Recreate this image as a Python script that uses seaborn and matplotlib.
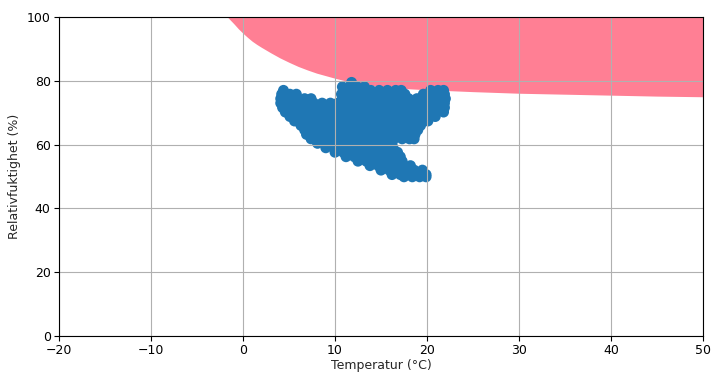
import matplotlib
matplotlib.use("Agg")
import matplotlib.pyplot as plt
import seaborn as sns
import numpy as np
import pandas as pd

# Critical humidity boundary (mould risk zone, filled up to 100 %)
grans_temp = [-1.7, -1.4, -1.0, -0.5, 0.0, 0.5, 1.0, 1.5, 2.0, 3.0, 4.0, 5.0, 6.0, 7.0, 8.0,
              9.0, 10.0, 11.0, 12.0, 14.0, 16.0, 18.0, 20.0, 25.0, 30.0, 35.0, 40.0, 45.0, 50.0]
grans_rh = [100.0, 99.1, 97.9, 96.3, 94.9, 93.6, 92.4, 91.4, 90.5, 88.8, 87.2, 85.8, 84.5,
            83.4, 82.4, 81.6, 80.8, 80.1, 79.5, 78.6, 77.9, 77.5, 77.2, 76.6, 76.1, 75.8,
            75.5, 75.2, 75.0]

# Measurements, row by row (temperature °C, relative humidity %)
temperatur = [
    11.8,
    10.8, 11.6, 12.4, 13.2,
    4.4, 13.9, 14.8, 15.7, 16.6, 17.2, 20.4, 21.2, 21.8,
    4.2, 5.1, 5.8, 10.7, 11.5, 12.4, 13.3, 14.2, 15.1, 16.0, 16.9, 17.6, 19.6, 20.4, 21.2, 21.9,
    4.1, 4.9, 5.8, 6.7, 7.4, 10.8, 11.7, 12.6, 13.5, 14.4, 15.3, 16.2, 17.1, 18.0, 18.9, 19.8, 20.7, 21.6, 22.0,
    4.1, 5.0, 5.9, 6.8, 7.7, 8.6, 9.5, 10.3, 11.2, 12.1, 13.0, 13.9, 14.8, 15.7, 16.6, 17.5, 18.4, 19.3, 20.2, 21.1, 21.9,
    4.3, 5.2, 6.1, 7.0, 7.9, 8.8, 9.7, 10.6, 11.5, 12.4, 13.3, 14.2, 15.1, 16.0, 16.9, 17.8, 18.7, 19.6, 20.5, 21.4, 21.9,
    4.6, 5.5, 6.4, 7.3, 8.2, 9.1, 10.0, 10.9, 11.8, 12.7, 13.6, 14.5, 15.4, 16.3, 17.2, 18.1, 19.0, 19.9, 20.8, 21.8,
    5.1, 6.0, 6.9, 7.8, 8.7, 9.6, 10.5, 11.4, 12.3, 13.2, 14.1, 15.0, 15.9, 16.8, 17.7, 18.6, 19.5, 20.4, 20.9,
    5.6, 6.5, 7.4, 8.3, 9.2, 10.1, 11.0, 11.9, 12.8, 13.7, 14.6, 15.5, 16.4, 17.3, 18.2, 19.1, 20.1,
    6.3, 7.2, 8.1, 9.0, 9.9, 10.8, 11.7, 12.6, 13.5, 14.4, 15.3, 16.2, 17.1, 18.0, 18.9, 19.3,
    6.7, 7.6, 8.5, 9.4, 10.3, 11.2, 12.1, 13.0, 13.9, 14.8, 15.7, 16.6, 17.5, 18.4, 19.0,
    6.9, 7.8, 8.7, 9.6, 10.5, 11.4, 12.3, 13.2, 14.1, 15.0, 15.9, 16.8, 17.7, 18.7,
    7.4, 8.3, 9.2, 10.1, 11.0, 11.9, 12.8, 13.7, 14.6, 15.5, 16.4, 17.3, 18.1, 18.6,
    8.1, 9.0, 9.9, 10.8, 11.7, 12.6, 13.5, 14.4, 15.3, 16.2,
    9.0, 9.9, 10.8, 11.7, 12.6, 13.5, 14.4, 15.3, 16.3,
    10.0, 10.9, 11.8, 12.7, 13.6, 14.5, 15.4, 16.2, 16.8,
    11.2, 12.1, 13.0, 13.9, 14.8, 15.7, 16.5, 17.1,
    12.5, 13.4, 14.3, 15.2, 16.1, 16.8, 17.3,
    13.8, 14.7, 15.6, 16.5, 17.4, 18.2,
    15.0, 15.9, 16.8, 17.7, 18.6, 19.5,
    16.2, 17.1, 18.0, 18.9, 19.9,
    17.5, 18.4, 19.2, 19.9,
]
fuktighet = (
    [79.5] * 1 + [78.1] * 4 + [77.0] * 9 + [75.8] * 16 + [74.4] * 19 + [73.0] * 21
    + [71.6] * 21 + [70.2] * 20 + [68.8] * 19 + [67.4] * 17 + [66.0] * 16 + [64.6] * 15
    + [63.2] * 14 + [61.8] * 14 + [60.4] * 10 + [59.0] * 9 + [57.6] * 9 + [56.2] * 8
    + [54.8] * 7 + [53.4] * 6 + [52.0] * 6 + [50.6] * 5 + [49.9] * 4
)

x_ticks = [-20, -10, 0, 10, 20, 30, 40, 50]
y_ticks = [0, 20, 40, 60, 80, 100]

sns.set_style("ticks")
plt.rcParams["font.family"] = ["DejaVu Sans"]

fig = plt.figure(figsize=(7.13, 3.74), dpi=100)
ax = fig.add_axes([59 / 713, 1 - 336 / 374, 644 / 713, 319 / 374])

ax.fill_between(grans_temp, grans_rh, 100, color="#ff7f94", linewidth=0, zorder=1)

df = pd.DataFrame({"Temperatur": temperatur, "RH": fuktighet})
sns.scatterplot(data=df, x="Temperatur", y="RH", s=62, color="#1f77b4",
                linewidth=0, edgecolor="none", ax=ax, zorder=1)

ax.set_xlim(-20, 50)
ax.set_ylim(0, 100)
ax.set_xticks(x_ticks)
ax.set_yticks(y_ticks)
ax.grid(True, color="#b0b0b0", linewidth=0.8)
ax.set_axisbelow("line")
for s in ax.spines.values():
    s.set_color("black")
    s.set_linewidth(0.8)
ax.tick_params(labelsize=9, colors="black", width=0.8, length=3.5, pad=2.5)
ax.set_xlabel("Temperatur (°C)", fontsize=9, labelpad=1)
ax.set_ylabel("Relativfuktighet (%)", fontsize=9, labelpad=4)

fig.savefig("out.png", dpi=100)
